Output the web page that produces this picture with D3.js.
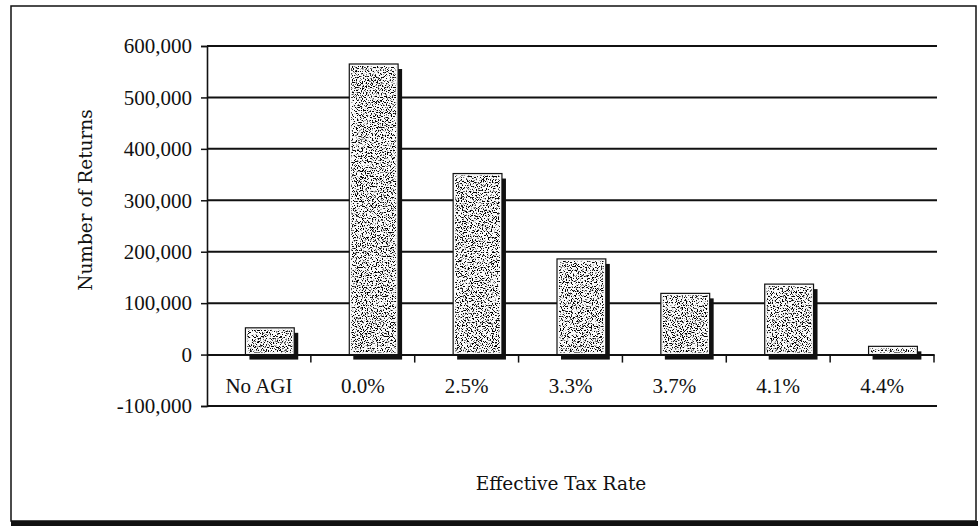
<!DOCTYPE html>
<html>
<head>
<meta charset="utf-8">
<script src="https://cdn.jsdelivr.net/npm/d3@7"></script>
<style>
  body { margin: 0; background: #fff; }
  svg { display: block; }
</style>
</head>
<body>
<div id="chart"></div>
<script>
// Data
const categories = ['No AGI', '0.0%', '2.5%', '3.3%', '3.7%', '4.1%', '4.4%'];
const returns = [52000, 565000, 352000, 186000, 119000, 137000, 16000];
const yTicks = [-100000, 0, 100000, 200000, 300000, 400000, 500000, 600000];

const data = categories.map((c, i) => ({ cat: c, value: returns[i] }));

// Dimensions
const width = 978;
const height = 528;
const plot = { left: 207, right: 934, top: 46, bottom: 406 };

const svg = d3.select('#chart')
  .append('svg')
    .attr('width', width)
    .attr('height', height);

// Speckle texture for the bars
const defs = svg.append('defs');
const filter = defs.append('filter')
  .attr('id', 'speckle')
  .attr('x', 0).attr('y', 0).attr('width', 1).attr('height', 1);
filter.append('feTurbulence')
  .attr('type', 'fractalNoise')
  .attr('baseFrequency', 0.8)
  .attr('numOctaves', 2)
  .attr('seed', 7)
  .attr('result', 'noise');
filter.append('feColorMatrix')
  .attr('in', 'noise')
  .attr('type', 'matrix')
  .attr('values', '0 0 0 0 0  0 0 0 0 0  0 0 0 0 0  -9 0 0 0 4.3')
  .attr('result', 'dots');
filter.append('feComposite')
  .attr('in', 'dots')
  .attr('in2', 'SourceAlpha')
  .attr('operator', 'in');

// Chart frame
svg.append('rect')
  .attr('x', 11).attr('y', 6)
  .attr('width', 965).attr('height', 515)
  .attr('fill', 'none')
  .attr('stroke', '#111')
  .attr('stroke-width', 1.5);
svg.append('rect')
  .attr('x', 11).attr('y', 521)
  .attr('width', 967).attr('height', 5)
  .attr('fill', '#111');

// Scales
const x = d3.scaleBand()
  .domain(categories)
  .range([plot.left, plot.right])
  .padding(0);
const y = d3.scaleLinear()
  .domain([-100000, 600000])
  .range([plot.bottom, plot.top]);

// Gridlines
svg.append('g')
  .selectAll('line')
  .data(yTicks.filter(t => t !== 0))
  .join('line')
    .attr('x1', plot.left)
    .attr('x2', plot.right + 3)
    .attr('y1', d => y(d))
    .attr('y2', d => y(d))
    .attr('stroke', '#111')
    .attr('stroke-width', 2);

// Y axis
const fmt = d3.format(',');
const yAxis = svg.append('g')
  .attr('transform', `translate(${plot.left},0)`)
  .call(d3.axisLeft(y)
    .tickValues(yTicks)
    .tickSize(6)
    .tickPadding(9)
    .tickFormat(d => fmt(d).replace('\u2212', '-')));
yAxis.select('.domain').attr('stroke', '#111').attr('stroke-width', 1.6);
yAxis.selectAll('.tick line').attr('stroke', '#111').attr('stroke-width', 1.5);
yAxis.selectAll('.tick text')
  .attr('fill', '#111')
  .style('font-family', '"Liberation Serif", serif')
  .style('font-size', '21px');

// Bars
const barX = d => x(d.cat) + x.bandwidth() * 0.37;
const barW = x.bandwidth() * 0.47;
const bars = svg.append('g');
bars.selectAll('rect.shadow')
  .data(data)
  .join('rect')
    .attr('class', 'shadow')
    .attr('x', d => barX(d) + 4)
    .attr('y', d => y(d.value) + 5)
    .attr('width', barW)
    .attr('height', d => y(0) - y(d.value))
    .attr('fill', '#111');
bars.selectAll('rect.face')
  .data(data)
  .join('rect')
    .attr('class', 'face')
    .attr('x', barX)
    .attr('y', d => y(d.value))
    .attr('width', barW)
    .attr('height', d => y(0) - y(d.value))
    .attr('fill', '#fafafa');
bars.selectAll('rect.dots')
  .data(data)
  .join('rect')
    .attr('class', 'dots')
    .attr('x', d => barX(d) + 2)
    .attr('y', d => y(d.value) + 2)
    .attr('width', barW - 4)
    .attr('height', d => Math.max(0, y(0) - y(d.value) - 4))
    .attr('fill', '#000')
    .attr('filter', 'url(#speckle)');
bars.selectAll('rect.edge')
  .data(data)
  .join('rect')
    .attr('class', 'edge')
    .attr('x', barX)
    .attr('y', d => y(d.value))
    .attr('width', barW)
    .attr('height', d => y(0) - y(d.value))
    .attr('fill', 'none')
    .attr('stroke', '#111')
    .attr('stroke-width', 1.2);

// X axis on the zero line
const xAxis = svg.append('g')
  .attr('transform', `translate(0,${y(0)})`)
  .call(d3.axisBottom(x).tickSize(0).tickPadding(24));
xAxis.select('.domain').attr('stroke', '#111').attr('stroke-width', 2);
xAxis.selectAll('.tick text')
  .attr('fill', '#111')
  .style('font-family', '"Liberation Serif", serif')
  .style('font-size', '21px');
xAxis.selectAll('line.sep')
  .data(categories)
  .join('line')
    .attr('class', 'sep')
    .attr('x1', d => x(d) + x.bandwidth())
    .attr('x2', d => x(d) + x.bandwidth())
    .attr('y1', 0)
    .attr('y2', 8)
    .attr('stroke', '#111')
    .attr('stroke-width', 1.5);

// Axis titles
svg.append('text')
  .attr('transform', 'translate(92,200) rotate(-90)')
  .attr('text-anchor', 'middle')
  .attr('fill', '#111')
  .style('font-family', '"DejaVu Serif", serif')
  .style('font-size', '18.5px')
  .text('Number of Returns');
svg.append('text')
  .attr('x', 561)
  .attr('y', 490)
  .attr('text-anchor', 'middle')
  .attr('fill', '#111')
  .style('font-family', '"DejaVu Serif", serif')
  .style('font-size', '18.5px')
  .text('Effective Tax Rate');
</script>
</body>
</html>
